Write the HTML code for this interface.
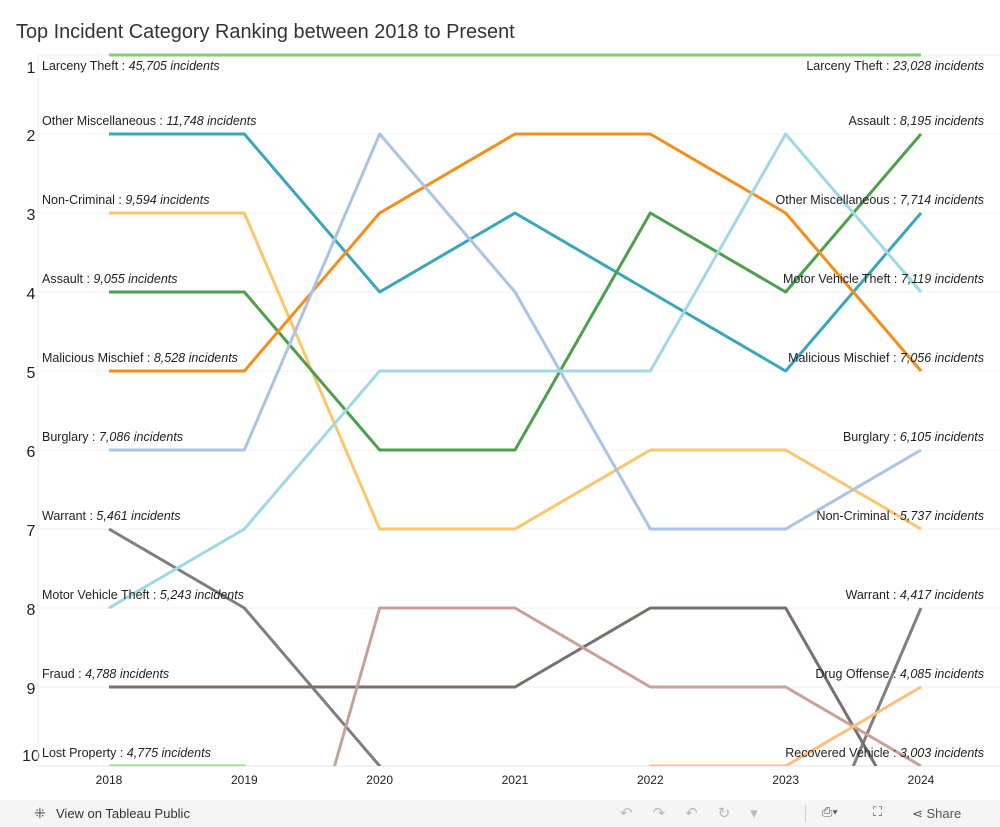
<!DOCTYPE html>
<html><head><meta charset="utf-8"><style>
html,body{margin:0;background:#fff;font-family:"Liberation Sans",sans-serif;width:1000px;height:827px;overflow:hidden}
#wrap{position:relative;width:1000px;height:827px;overflow:hidden}
#title{position:absolute;left:16px;top:21px;font-size:19.9px;color:#333}
#footer{position:absolute;left:0;top:800px;width:1000px;height:27px;background:#f5f5f5;font-size:13px;color:#333}
</style></head><body>
<div id="wrap">
<div id="title">Top Incident Category Ranking between 2018 to Present</div>
<svg id="chart" width="1000" height="800" style="position:absolute;left:0;top:0"></svg>
<div id="footer">
<span style="position:absolute;left:34px;top:5px;font-size:14px;color:#555">⁜</span>
<span style="position:absolute;left:56px;top:6px">View on Tableau Public</span>
<span style="position:absolute;left:620px;top:4px;color:#bbb;font-size:15px;letter-spacing:20px">↶↷↶↻▾</span>
<span style="position:absolute;left:805px;top:5px;width:1px;height:17px;background:#ccc"></span>
<span style="position:absolute;left:822px;top:4px;color:#555">⎙▾</span>
<span style="position:absolute;left:873px;top:4px;color:#555">⛶</span>
<span style="position:absolute;left:912px;top:6px;color:#555">⋖ Share</span>
</div>
</div>
<script>
const years=[2018,2019,2020,2021,2022,2023,2024];
const seriesNames=["Larceny Theft","Other Miscellaneous","Non-Criminal","Assault","Malicious Mischief","Burglary","Warrant","Motor Vehicle Theft","Fraud","Lost Property","Recovered Vehicle","Drug Offense"];
const seriesColors=["#7fcf6e","#3aa6b9","#fdc56c","#4e9f4a","#f28e1c","#aac3e6","#7f7f7f","#9fd9e3","#79706e","#98df8a","#c9a09a","#ffbe7d"];
const rankLarceny=[1,1,1,1,1,1,1];
const rankOtherMisc=[2,2,4,3,4,5,3];
const rankNonCriminal=[3,3,7,7,6,6,7];
const rankAssault=[4,4,6,6,3,4,2];
const rankMalicious=[5,5,3,2,2,3,5];
const rankBurglary=[6,6,2,4,7,7,6];
const rankWarrant=[7,8,10,12,12,12,8];
const rankMotorVehicle=[8,7,5,5,5,2,4];
const rankFraud=[9,9,9,9,8,8,11];
const rankLostProperty=[10,10,12,12,12,12,12];
const rankRecovered=[14,14,8,8,9,9,10];
const rankDrug=[12,12,12,12,10,10,9];
const ranks=[rankLarceny,rankOtherMisc,rankNonCriminal,rankAssault,rankMalicious,rankBurglary,rankWarrant,rankMotorVehicle,rankFraud,rankLostProperty,rankRecovered,rankDrug];
const leftLabels=["Larceny Theft|45,705","Other Miscellaneous|11,748","Non-Criminal|9,594","Assault|9,055","Malicious Mischief|8,528","Burglary|7,086","Warrant|5,461","Motor Vehicle Theft|5,243","Fraud|4,788","Lost Property|4,775"];
const rightLabels=["Larceny Theft|23,028","Assault|8,195","Other Miscellaneous|7,714","Motor Vehicle Theft|7,119","Malicious Mischief|7,056","Burglary|6,105","Non-Criminal|5,737","Warrant|4,417","Drug Offense|4,085","Recovered Vehicle|3,003"];
const rankTicks=[1,2,3,4,5,6,7,8,9,10];

const NS="http://www.w3.org/2000/svg";
const svg=document.getElementById('chart');
const x=i=>109+i*135.33;
const y=r=>55+(r-1)*79.0;
function mk(t,a,p){const e=document.createElementNS(NS,t);for(const k in a)e.setAttribute(k,a[k]);(p||svg).appendChild(e);return e;}
const defs=mk('defs',{});const cp=mk('clipPath',{id:'clip'},defs);mk('rect',{x:38,y:53,width:962,height:713},cp);
rankTicks.forEach(r=>{
 const g=mk('line',{x1:38,x2:1000,y1:y(r),y2:y(r),stroke:'#f0f0f0','stroke-width':1});
 
 
 const off=r==1?18:(r==10?-5:7);
 const t=mk('text',{x:31,y:y(r)+off,'text-anchor':'middle','font-size':16,fill:'#222'});t.textContent=r;
 
 
});
mk('line',{x1:38,x2:38,y1:53,y2:766,stroke:'#eee'});
mk('line',{x1:38,x2:1000,y1:766,y2:766,stroke:'#e6e6e6'});
years.forEach((yr,i)=>{
 const t=mk('text',{x:x(i),y:784,'text-anchor':'middle','font-size':12,fill:'#222'});t.textContent=yr;
 
 
});
const lg=mk('g',{'clip-path':'url(#clip)'});
ranks.forEach((rk,s)=>{
 const p=mk('polyline',{points:rk.map((r,i)=>x(i)+','+y(r)).join(' '),fill:'none',stroke:seriesColors[s],'stroke-width':3,'stroke-linejoin':'round'},lg);
 
 
});
function label(str,r,side){
 const [n,v]=str.split('|');
 const yy=r==1?y(r)+15:y(r)-9;
 const t=mk('text',{x:side=='l'?42:984,y:yy,'text-anchor':side=='l'?'start':'end','font-size':12.5,fill:'#222'});
 t.innerHTML=n+' : <tspan font-style="italic">'+v+' incidents</tspan>';
 
 
}
leftLabels.forEach((s,i)=>label(s,i+1,'l'));
rightLabels.forEach((s,i)=>label(s,i+1,'r'));
</script>
</body></html>
